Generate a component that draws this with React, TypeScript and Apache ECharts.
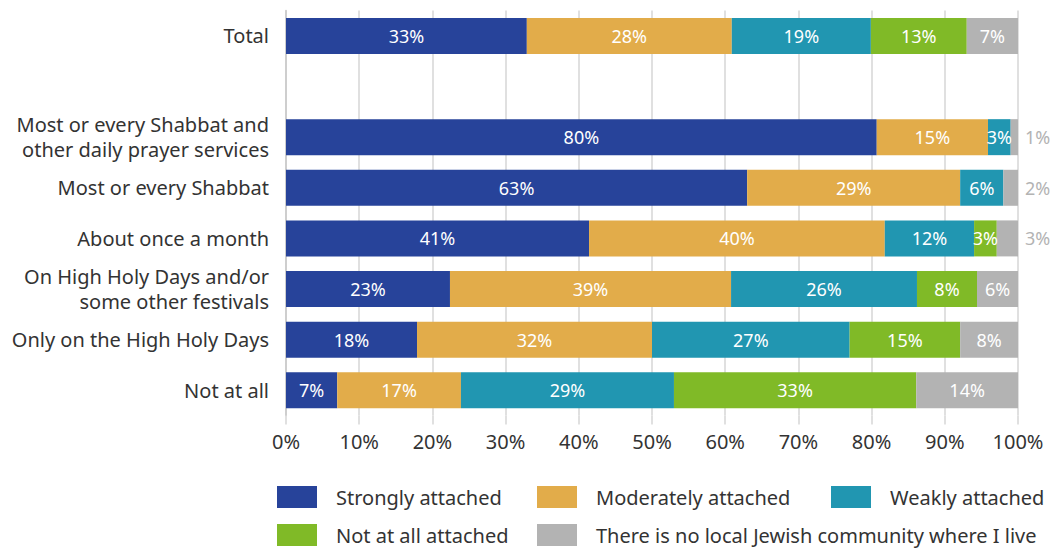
import React, { useEffect, useRef } from "react";
import * as echarts from "echarts";

const categories = [
  "Total",
  " ",
  "Most or every Shabbat and\nother daily prayer services",
  "Most or every Shabbat",
  "About once a month",
  "On High Holy Days and/or\nsome other festivals",
  "Only on the High Holy Days",
  "Not at all",
];

const seriesNames = [
  "Strongly attached",
  "Moderately attached",
  "Weakly attached",
  "Not at all attached",
  "There is no local Jewish community where I live",
];

const strongly = [32.9, null, 80.7, 63.0, 41.4, 22.4, 17.9, 7.0];
const moderately = [28.0, null, 15.2, 29.1, 40.4, 38.4, 32.1, 16.9];
const weakly = [19.0, null, 3.1, 5.9, 12.2, 25.4, 27.0, 29.1];
const notAtAll = [13.1, null, 0, 0, 3.1, 8.2, 15.1, 33.1];
const noCommunity = [7.0, null, 1.0, 2.0, 2.9, 5.6, 7.9, 13.9];

const stronglyLabels = [33, null, 80, 63, 41, 23, 18, 7];
const moderatelyLabels = [28, null, 15, 29, 40, 39, 32, 17];
const weaklyLabels = [19, null, 3, 6, 12, 26, 27, 29];
const notAtAllLabels = [13, null, null, null, 3, 8, 15, 33];
const noCommunityLabels = [7, null, 1, 2, 3, 6, 8, 14];

const xTicks = [0, 10, 20, 30, 40, 50, 60, 70, 80, 90, 100];

const colors = ["#27439a", "#e2ac4a", "#2196b1", "#80ba27", "#b3b3b3"];
const FONT = "Noto Sans";

export default function App() {
  const ref = useRef<HTMLDivElement>(null);
  useEffect(() => {
    if (!ref.current) return;
    const chart = echarts.init(ref.current, null, { renderer: "svg" });
    const values = [strongly, moderately, weakly, notAtAll, noCommunity];
    const labels = [stronglyLabels, moderatelyLabels, weaklyLabels, notAtAllLabels, noCommunityLabels];

    const series = seriesNames.map((name, si) => ({
      name,
      type: "bar",
      stack: "total",
      barWidth: 36,
      itemStyle: { color: colors[si] },
      label: {
        show: true,
        position: "inside",
        color: "#ffffff",
        fontSize: 18,
        fontFamily: FONT,
        formatter: (p: any) => {
          const l = labels[si][p.dataIndex];
          return l == null ? "" : l + "%";
        },
      },
      data: values[si].map((v, i) => {
        if (v == null) return "-";
        if (si === 4 && v < 4) {
          return {
            value: v,
            label: { position: "right", distance: 7, color: "#b3b3b3" },
          };
        }
        return v;
      }),
    }));

    const legendPos = [
      [277, 486],
      [537, 486],
      [831, 486],
      [277, 524],
      [537, 524],
    ];

    chart.setOption({
      animation: false,
      textStyle: { fontFamily: FONT },
      grid: { left: 286, right: 39, top: 10.6, height: 405, containLabel: false },
      xAxis: {
        type: "value",
        min: 0,
        max: 100,
        interval: 10,
        axisLabel: {
          formatter: (v: number) => (xTicks.includes(v) ? v + "%" : ""),
          fontSize: 20,
          color: "#333333",
          fontFamily: FONT,
          margin: 16,
        },
        axisLine: { show: false },
        axisTick: { show: true, length: 9, lineStyle: { color: "#d6d6d6", width: 1.5 } },
        splitLine: { show: true, lineStyle: { color: "#d6d6d6", width: 1.5 } },
      },
      yAxis: {
        type: "category",
        data: categories,
        inverse: true,
        axisLine: { show: true, lineStyle: { color: "#c8c8c8", width: 1.5 } },
        axisTick: { show: false },
        axisLabel: {
          fontSize: 20,
          color: "#333333",
          fontFamily: FONT,
          margin: 17,
          lineHeight: 25,
        },
      },
      legend: seriesNames.map((n, i) => ({
        data: [n],
        left: legendPos[i][0],
        top: legendPos[i][1],
        padding: 0,
        itemWidth: 40,
        itemHeight: 22,
        itemStyle: { borderWidth: 0 },
        selectedMode: false,
        textStyle: { fontSize: 20, color: "#333333", fontFamily: FONT, padding: [0, 0, 0, 14] },
        icon: "rect",
      })),
      series,
    });
    return () => chart.dispose();
  }, []);
  return (
    <div
      ref={ref}
      style={{ position: "absolute", left: 0, top: 0, width: 1057, height: 550 }}
    />
  );
}
